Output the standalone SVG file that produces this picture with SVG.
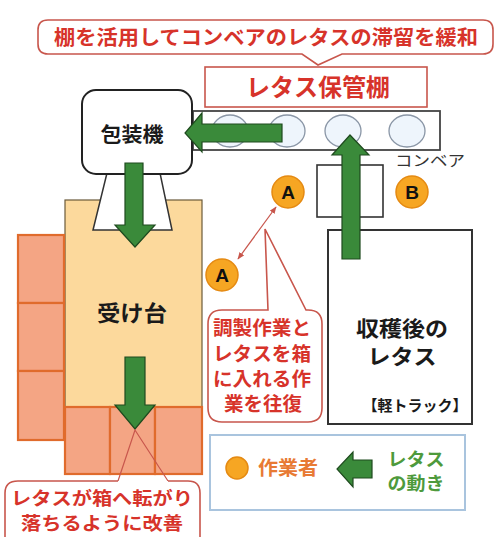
<svg xmlns="http://www.w3.org/2000/svg" width="496" height="537" viewBox="0 0 496 537">
<defs>
<style>
.jp{font-family:"Noto Sans CJK JP","Noto Sans CJK SC",sans-serif;font-weight:700;text-anchor:middle}
.red{fill:#d7332a}
.blk{fill:#1a1a1a}
.callout{fill:#fff;stroke:#c8564c;stroke-width:1.6}
.box{fill:#f4a584;stroke:#e06b2c;stroke-width:2.2}
.garrow{fill:#3a8a3a;stroke:#1e4a1e;stroke-width:1.2}
.worker{fill:#f6a623;stroke:#e58a12;stroke-width:1.5}
.ell{fill:#eef5fc;stroke:#8a96a6;stroke-width:1.3}
.thin{fill:none;stroke:#c8564c;stroke-width:1.2}
</style>
<marker id="ah" viewBox="0 0 10 10" refX="9" refY="5" markerWidth="6" markerHeight="6" orient="auto-start-reverse">
<path d="M0,1 L10,5 L0,9 z" fill="#c8564c"/>
</marker>
</defs>
<rect width="496" height="537" fill="#fff"/>

<g id="top-callout">
<path class="callout" d="M48,20 H483 Q493,20 493,30 V44 Q493,54 483,54 H342 L318,65 L302,54 H48 Q38,54 38,44 V30 Q38,20 48,20 Z"/>
<text class="jp red" x="266" y="45" font-size="20" textLength="424" lengthAdjust="spacingAndGlyphs">棚を活用してコンベアのレタスの滞留を緩和</text>
</g>

<g id="storage-shelf">
<rect x="205" y="67" width="222" height="40" fill="#fff" stroke="#c8564c" stroke-width="1.6"/>
<text class="jp red" x="318" y="96" font-size="24" textLength="144" lengthAdjust="spacingAndGlyphs">レタス保管棚</text>
</g>

<g id="conveyor">
<rect x="193" y="111" width="247" height="39" fill="#fff" stroke="#444" stroke-width="1.8"/>
<ellipse class="ell" cx="230" cy="131" rx="18" ry="16"/>
<ellipse class="ell" cx="287" cy="131" rx="18" ry="16"/>
<ellipse class="ell" cx="343" cy="131" rx="18" ry="16"/>
<ellipse class="ell" cx="407" cy="131" rx="18" ry="16"/>
<text class="jp" x="430" y="166" font-size="15" fill="#333" style="font-weight:400" textLength="70" lengthAdjust="spacingAndGlyphs">コンベア</text>
</g>

<g id="table">
<rect x="65" y="200" width="137" height="207" fill="#fcd99c" stroke="#6b5a3a" stroke-width="1.2"/>
<text class="jp blk" x="132" y="321" font-size="22" textLength="70" lengthAdjust="spacingAndGlyphs">受け台</text>
</g>

<g id="chute">
<polygon points="107,173 160,173 172,230 93,230" fill="#fff" stroke="#333" stroke-width="1.5"/>
</g>

<g id="packaging-machine">
<rect x="82" y="90" width="110" height="84" rx="14" fill="#fff" stroke="#222" stroke-width="2"/>
<text class="jp blk" x="132" y="142" font-size="20" textLength="63" lengthAdjust="spacingAndGlyphs">包装機</text>
</g>

<g id="boxes-left">
<rect class="box" x="18" y="235" width="46" height="68"/>
<rect class="box" x="18" y="303" width="46" height="68"/>
<rect class="box" x="18" y="371" width="46" height="69"/>
</g>
<g id="boxes-bottom">
<rect class="box" x="65" y="407" width="45" height="67"/>
<rect class="box" x="110" y="407" width="45" height="67"/>
<rect class="box" x="155" y="407" width="47" height="67"/>
</g>

<g id="small-rect">
<rect x="317" y="165" width="66" height="52" fill="#fff" stroke="#333" stroke-width="1.6"/>
</g>

<g id="truck">
<rect x="328" y="230" width="144" height="194" fill="#fff" stroke="#333" stroke-width="2"/>
<text class="jp blk" x="402" y="336" font-size="21" textLength="92" lengthAdjust="spacingAndGlyphs">収穫後の</text>
<text class="jp blk" x="402" y="364" font-size="21" textLength="69" lengthAdjust="spacingAndGlyphs">レタス</text>
<text class="jp blk" x="415" y="411" font-size="15" textLength="105" lengthAdjust="spacingAndGlyphs">【軽トラック】</text>
</g>

<g id="connectors">
<polygon class="garrow" points="282,124 282,142 202,142 202,152 185,133 202,113 202,124"/>
<polygon class="garrow" points="125,163 143,163 143,225 155,225 135,247 115,225 125,225"/>
<polygon class="garrow" points="342,259 342,155 332,155 350,135 369,155 360,155 360,259"/>
<polygon class="garrow" points="125,357 145,357 145,405 155,405 135,429 115,405 125,405"/>
<line x1="238" y1="259" x2="276" y2="207" stroke="#c8564c" stroke-width="1.2" marker-start="url(#ah)" marker-end="url(#ah)"/>
<polyline class="thin" points="118,481 135,430 168,481"/>
</g>

<g id="worker-A1">
<circle class="worker" cx="288" cy="192" r="16"/>
<text x="288" y="199" font-family="Liberation Sans,Arial,sans-serif" font-weight="700" font-size="19" text-anchor="middle" fill="#111">A</text>
</g>
<g id="worker-A2">
<circle class="worker" cx="222" cy="275" r="16"/>
<text x="222" y="282" font-family="Liberation Sans,Arial,sans-serif" font-weight="700" font-size="19" text-anchor="middle" fill="#111">A</text>
</g>
<g id="worker-B">
<circle class="worker" cx="412" cy="192" r="16"/>
<text x="412" y="199" font-family="Liberation Sans,Arial,sans-serif" font-weight="700" font-size="19" text-anchor="middle" fill="#111">B</text>
</g>

<g id="work-callout">
<path class="callout" d="M222,310 H268 L265,229 L306,310 H308 Q322,310 322,324 V408 Q322,422 308,422 H222 Q208,422 208,408 V324 Q208,310 222,310 Z"/>
<text class="jp red" x="262" y="335" font-size="19" textLength="98" lengthAdjust="spacingAndGlyphs">調製作業と</text>
<text class="jp red" x="262" y="361" font-size="19" textLength="98" lengthAdjust="spacingAndGlyphs">レタスを箱</text>
<text class="jp red" x="262" y="386" font-size="19" textLength="98" lengthAdjust="spacingAndGlyphs">に入れる作</text>
<text class="jp red" x="263" y="411" font-size="19" textLength="78" lengthAdjust="spacingAndGlyphs">業を往復</text>
</g>

<g id="bottom-callout">
<rect x="5" y="481" width="195" height="70" rx="12" fill="#fff"/>
<path fill="none" stroke="#c8564c" stroke-width="1.6" d="M118,481 H18 Q5,481 5,493 V540 M200,540 V493 Q200,481 188,481 H168"/>
<text class="jp red" x="102" y="505" font-size="18" textLength="182" lengthAdjust="spacingAndGlyphs">レタスが箱へ転がり</text>
<text class="jp red" x="102" y="530" font-size="18" textLength="162" lengthAdjust="spacingAndGlyphs">落ちるように改善</text>
</g>

<g id="legend">
<rect x="210" y="435" width="255" height="75" fill="#fff" stroke="#a9c4de" stroke-width="2"/>
<circle class="worker" cx="237" cy="468" r="11"/>
<text class="jp" x="288" y="475" font-size="19" fill="#e87a34" textLength="60" lengthAdjust="spacingAndGlyphs">作業者</text>
<polygon class="garrow" points="372,460 372,478 353,478 353,487 337,469 353,452 353,460"/>
<text class="jp" x="416" y="466" font-size="18" fill="#4e9a3c" textLength="57" lengthAdjust="spacingAndGlyphs">レタス</text>
<text class="jp" x="416" y="490" font-size="18" fill="#4e9a3c" textLength="57" lengthAdjust="spacingAndGlyphs">の動き</text>
</g>
</svg>
